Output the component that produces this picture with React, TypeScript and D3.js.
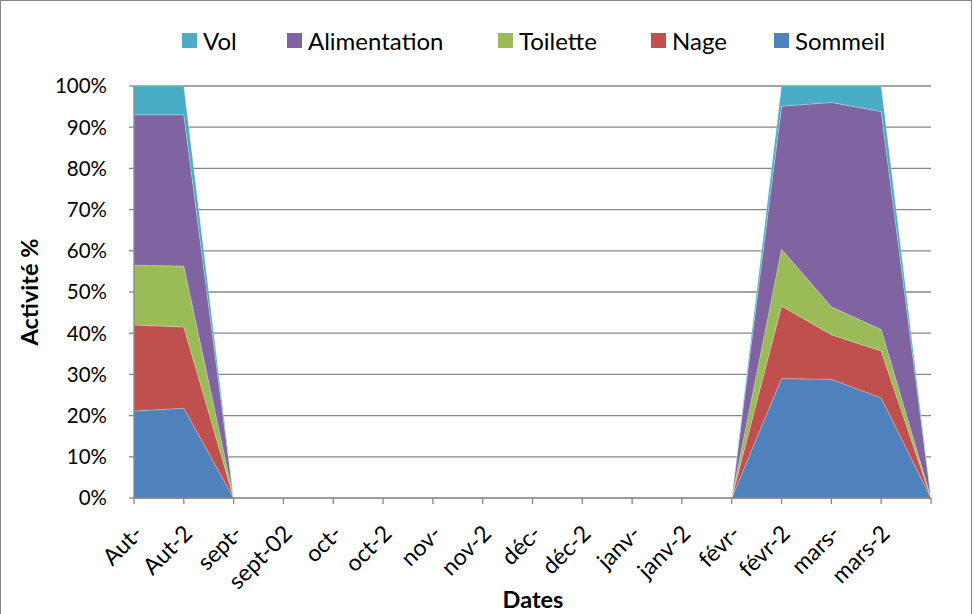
import React from "react";
import * as d3 from "d3";

const categories = ["Aut-", "Aut-2", "sept-", "sept-02", "oct-", "oct-2", "nov-", "nov-2", "déc-", "déc-2", "janv-", "janv-2", "févr-", "févr-2", "mars-", "mars-2", ""];
const sommeil = [21.1, 21.8, 0, 0, 0, 0, 0, 0, 0, 0, 0, 0, 0, 29.0, 28.8, 24.3, 0];
const nage = [20.9, 19.7, 0, 0, 0, 0, 0, 0, 0, 0, 0, 0, 0, 17.6, 10.8, 11.4, 0];
const toilette = [14.5, 14.8, 0, 0, 0, 0, 0, 0, 0, 0, 0, 0, 0, 13.8, 6.8, 5.2, 0];
const alimentation = [36.5, 36.7, 0, 0, 0, 0, 0, 0, 0, 0, 0, 0, 0, 34.7, 49.6, 52.9, 0];
const vol = [7.0, 7.0, 0, 0, 0, 0, 0, 0, 0, 0, 0, 0, 0, 4.9, 4.0, 6.2, 0];
const yTicks = [0, 10, 20, 30, 40, 50, 60, 70, 80, 90, 100];

const seriesNames = ["Sommeil", "Nage", "Toilette", "Alimentation", "Vol"];
const seriesValues = [sommeil, nage, toilette, alimentation, vol];
const colors: Record<string, string> = {
  Sommeil: "#4F81BD",
  Nage: "#C0504D",
  Toilette: "#9BBB59",
  Alimentation: "#8064A2",
  Vol: "#4BACC6",
};
const legendOrder = ["Vol", "Alimentation", "Toilette", "Nage", "Sommeil"];
const legendX = [182, 287, 498, 651, 774];

const FONT = "Lato, 'Open Sans', sans-serif";

export default function App() {
  const W = 974, H = 614;
  const left = 134, right = 931, top = 86, bottom = 498;
  const x = d3.scaleLinear().domain([0, categories.length - 1]).range([left, right]);
  const y = d3.scaleLinear().domain([0, 100]).range([bottom, top]);

  const table = categories.map((c, i) => {
    const row: Record<string, number> = { idx: i };
    seriesNames.forEach((s, k) => (row[s] = seriesValues[k][i]));
    return row;
  });
  const stack = d3.stack<Record<string, number>>().keys(seriesNames);
  const layers = stack(table);
  const area = d3
    .area<d3.SeriesPoint<Record<string, number>>>()
    .x((d) => x(d.data.idx))
    .y0((d) => y(d[0]))
    .y1((d) => y(d[1]));

  return (
    <svg width={W} height={H} style={{ position: "absolute", left: 0, top: 0, background: "#fff" }} fontFamily={FONT}>
      <rect x={0.5} y={0.5} width={W - 3} height={H + 10} fill="#fff" stroke="#868686" strokeWidth={1} />
      {yTicks.map((t) => (
        <line key={"g" + t} x1={left} x2={right} y1={y(t)} y2={y(t)} stroke="#868686" strokeWidth={1.3} />
      ))}
      {layers.map((l) => (
        <path key={l.key} d={area(l) || ""} fill={colors[l.key]} stroke="rgba(255,255,255,0.35)" strokeWidth={0.6} />
      ))}
      <line x1={left} x2={left} y1={top} y2={bottom} stroke="#868686" strokeWidth={1.3} />
      <line x1={left} x2={right} y1={bottom} y2={bottom} stroke="#868686" strokeWidth={1.3} />
      {yTicks.map((t) => (
        <g key={"yt" + t}>
          <line x1={left - 5} x2={left} y1={y(t)} y2={y(t)} stroke="#868686" strokeWidth={1.3} />
          <text x={107} y={y(t)} dy="0.36em" textAnchor="end" fontSize={20.5} fill="#000">
            {t}%
          </text>
        </g>
      ))}
      {categories.map((c, i) => (
        <line key={"xt" + i} x1={x(i)} x2={x(i)} y1={bottom} y2={bottom + 6} stroke="#868686" strokeWidth={1.3} />
      ))}
      {categories.map((c, i) =>
        c ? (
          <text
            key={"xl" + i}
            transform={`translate(${x(i) + 10},${bottom + 37}) rotate(-45)`}
            textAnchor="end"
            fontSize={23}
            fill="#000"
          >
            {c}
          </text>
        ) : null
      )}
      <text x={533} y={608} textAnchor="middle" fontSize={23.5} fontWeight="bold" fill="#000">
        Dates
      </text>
      <text transform={`translate(38,${(top + bottom) / 2}) rotate(-90)`} textAnchor="middle" fontSize={23.5} fontWeight="bold" fill="#000">
        Activité %
      </text>
      {legendOrder.map((s, i) => (
        <g key={"lg" + s}>
          <rect x={legendX[i]} y={33} width={15} height={15} fill={colors[s]} />
          <text x={legendX[i] + 21} y={41} dy="0.36em" fontSize={24} fill="#000">
            {s}
          </text>
        </g>
      ))}
    </svg>
  );
}
